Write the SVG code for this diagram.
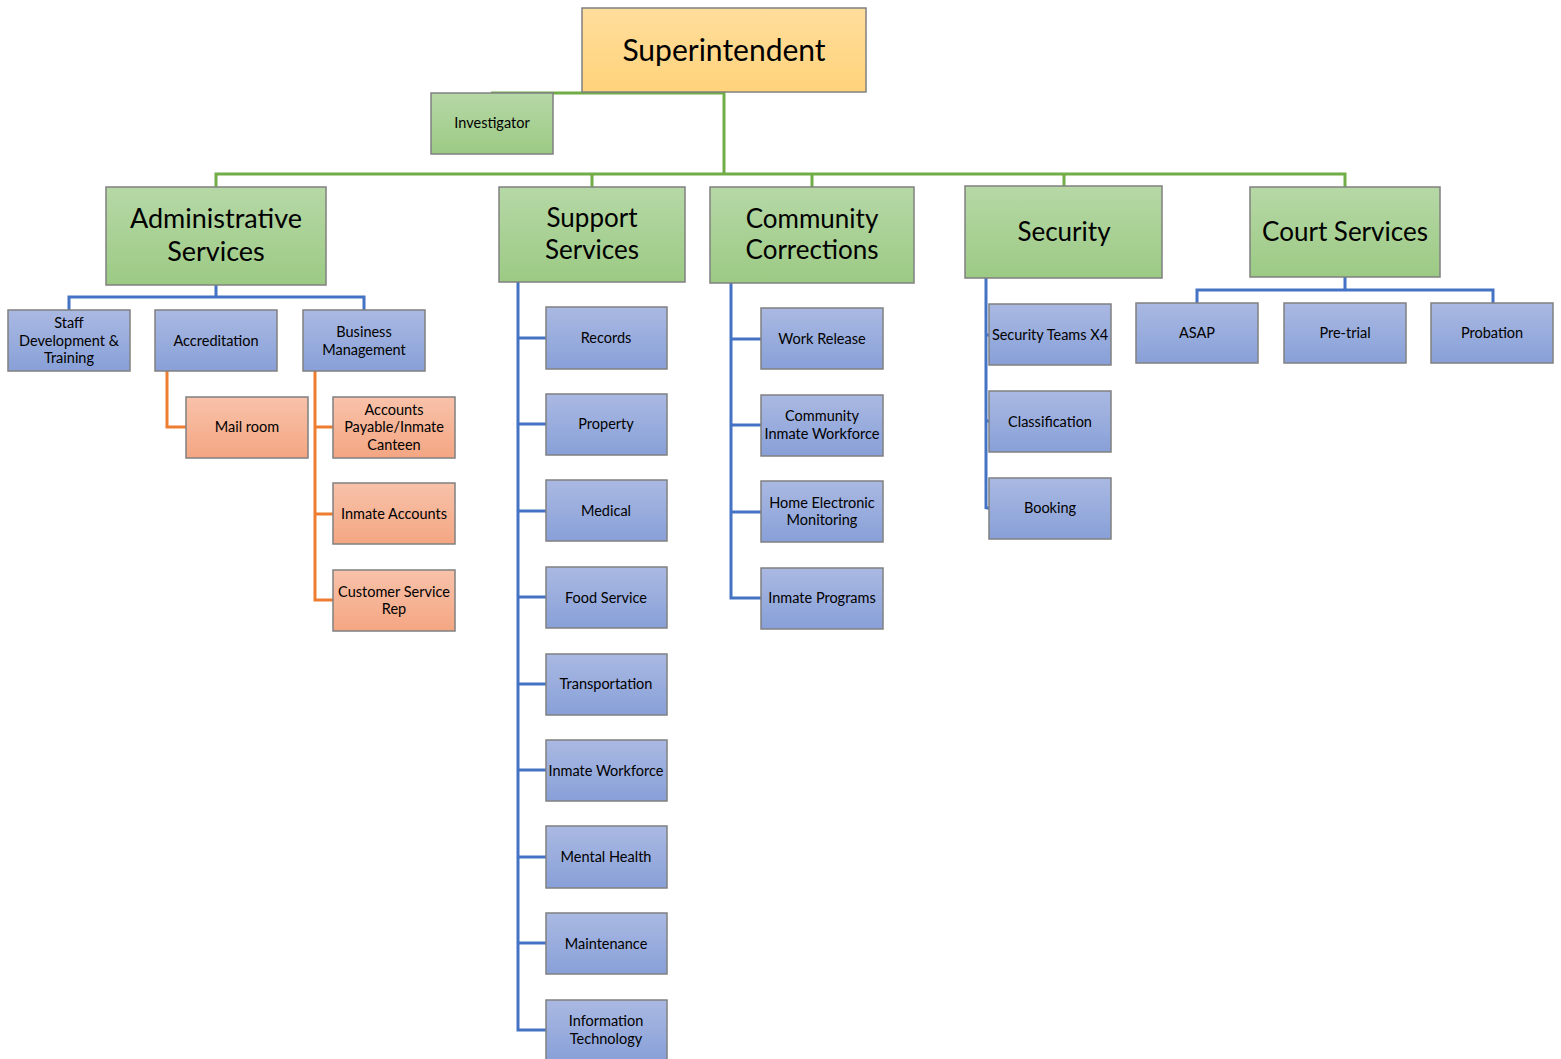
<svg xmlns="http://www.w3.org/2000/svg" width="1561" height="1059" viewBox="0 0 1561 1059">
<defs>
<linearGradient id="gy" x1="0" y1="0" x2="0" y2="1"><stop offset="0" stop-color="#FFDD9C"/><stop offset="1" stop-color="#FFD37A"/></linearGradient>
<linearGradient id="gg" x1="0" y1="0" x2="0" y2="1"><stop offset="0" stop-color="#B6D8A6"/><stop offset="1" stop-color="#9CCA84"/></linearGradient>
<linearGradient id="gb" x1="0" y1="0" x2="0" y2="1"><stop offset="0" stop-color="#AAB9E2"/><stop offset="1" stop-color="#88A0D8"/></linearGradient>
<linearGradient id="go" x1="0" y1="0" x2="0" y2="1"><stop offset="0" stop-color="#F8C2AA"/><stop offset="1" stop-color="#F4A682"/></linearGradient>
</defs>
<style>
.y,.g,.b,.o{stroke:#808080;stroke-width:1.5}
.y{fill:url(#gy)}.g{fill:url(#gg)}.b{fill:url(#gb)}.o{fill:url(#go)}
text{font-family:Lato,"Noto Sans",sans-serif;fill:#000;text-anchor:middle}
.s{font-size:14.5px}.l{font-size:26px}.a{font-size:27px}.t{font-size:30px}
.cg{stroke:#70AD47;stroke-width:3;fill:none}
.cb{stroke:#4472C4;stroke-width:3;fill:none}
.co{stroke:#ED7D31;stroke-width:3;fill:none}
</style>
<rect width="1561" height="1059" fill="#fff"/>
<g id="connectors">
<path class="cg" d="M491 93H724V174M216 187V174H1345V187M592 174V187M812 174V187M1064 174V186"/>
<path class="cb" d="M216 285V297M69 310V297H364V310"/>
<path class="co" d="M167 371V427H186M315 371V600H333M315 427H333M315 514H333"/>
<path class="cb" d="M518 282V1030H546M518 338H546M518 424H546M518 511H546M518 597H546M518 684H546M518 770H546M518 857H546M518 943H546"/>
<path class="cb" d="M731 283V598H761M731 339H761M731 425H761M731 512H761"/>
<path class="cb" d="M986 278V509M986 335H989M986 421H989M986 508H989"/>
<path class="cb" d="M1345 277V290M1197 303V290H1493V303"/>
</g>
<g id="superintendent"><rect class="y" x="582" y="8" width="284" height="84"/><text class="t" x="724" y="61">Superintendent</text></g>
<g id="investigator"><rect class="g" x="431" y="93" width="122" height="61"/><text class="s" x="492" y="128">Investigator</text></g>
<g id="admin"><rect class="g" x="106" y="187" width="220" height="98"/><text class="a" x="216" y="228">Administrative</text><text class="a" x="216" y="261">Services</text></g>
<g id="support"><rect class="g" x="499" y="187" width="186" height="95"/><text class="l" x="592" y="227">Support</text><text class="l" x="592" y="259">Services</text></g>
<g id="community"><rect class="g" x="710" y="187" width="204" height="96"/><text class="l" x="812" y="228">Community</text><text class="l" x="812" y="259">Corrections</text></g>
<g id="security"><rect class="g" x="965" y="186" width="197" height="92"/><text class="l" x="1064" y="241">Security</text></g>
<g id="court"><rect class="g" x="1250" y="187" width="190" height="90"/><text class="l" x="1345" y="241">Court Services</text></g>
<g id="staff"><rect class="b" x="8" y="310" width="122" height="61"/><text class="s" x="69" y="328">Staff</text><text class="s" x="69" y="346">Development &amp;</text><text class="s" x="69" y="363">Training</text></g>
<g id="accreditation"><rect class="b" x="155" y="310" width="122" height="61"/><text class="s" x="216" y="346">Accreditation</text></g>
<g id="business"><rect class="b" x="303" y="310" width="122" height="61"/><text class="s" x="364" y="337">Business</text><text class="s" x="364" y="355">Management</text></g>
<g id="mailroom"><rect class="o" x="186" y="397" width="122" height="61"/><text class="s" x="247" y="432">Mail room</text></g>
<g id="accounts"><rect class="o" x="333" y="397" width="122" height="61"/><text class="s" x="394" y="415">Accounts</text><text class="s" x="394" y="432">Payable/Inmate</text><text class="s" x="394" y="450">Canteen</text></g>
<g id="inmateaccounts"><rect class="o" x="333" y="483" width="122" height="61"/><text class="s" x="394" y="519">Inmate Accounts</text></g>
<g id="customer"><rect class="o" x="333" y="570" width="122" height="61"/><text class="s" x="394" y="597">Customer Service</text><text class="s" x="394" y="614">Rep</text></g>
<g id="records"><rect class="b" x="546" y="307" width="121" height="62"/><text class="s" x="606" y="343">Records</text></g>
<g id="property"><rect class="b" x="546" y="394" width="121" height="61"/><text class="s" x="606" y="429">Property</text></g>
<g id="medical"><rect class="b" x="546" y="480" width="121" height="61"/><text class="s" x="606" y="516">Medical</text></g>
<g id="food"><rect class="b" x="546" y="567" width="121" height="61"/><text class="s" x="606" y="603">Food Service</text></g>
<g id="transportation"><rect class="b" x="546" y="654" width="121" height="61"/><text class="s" x="606" y="689">Transportation</text></g>
<g id="inmateworkforce"><rect class="b" x="546" y="740" width="121" height="61"/><text class="s" x="606" y="776">Inmate Workforce</text></g>
<g id="mentalhealth"><rect class="b" x="546" y="826" width="121" height="62"/><text class="s" x="606" y="862">Mental Health</text></g>
<g id="maintenance"><rect class="b" x="546" y="913" width="121" height="61"/><text class="s" x="606" y="949">Maintenance</text></g>
<g id="it"><rect class="b" x="546" y="1000" width="121" height="61"/><text class="s" x="606" y="1026">Information</text><text class="s" x="606" y="1044">Technology</text></g>
<g id="workrelease"><rect class="b" x="761" y="308" width="122" height="61"/><text class="s" x="822" y="344">Work Release</text></g>
<g id="ciw"><rect class="b" x="761" y="395" width="122" height="61"/><text class="s" x="822" y="421">Community</text><text class="s" x="822" y="439">Inmate Workforce</text></g>
<g id="hem"><rect class="b" x="761" y="481" width="122" height="61"/><text class="s" x="822" y="508">Home Electronic</text><text class="s" x="822" y="525">Monitoring</text></g>
<g id="programs"><rect class="b" x="761" y="568" width="122" height="61"/><text class="s" x="822" y="603">Inmate Programs</text></g>
<g id="secteams"><rect class="b" x="989" y="304" width="122" height="61"/><text class="s" x="1050" y="340">Security Teams X4</text></g>
<g id="classification"><rect class="b" x="989" y="391" width="122" height="61"/><text class="s" x="1050" y="427">Classification</text></g>
<g id="booking"><rect class="b" x="989" y="478" width="122" height="61"/><text class="s" x="1050" y="513">Booking</text></g>
<g id="asap"><rect class="b" x="1136" y="303" width="122" height="60"/><text class="s" x="1197" y="338">ASAP</text></g>
<g id="pretrial"><rect class="b" x="1284" y="303" width="122" height="60"/><text class="s" x="1345" y="338">Pre-trial</text></g>
<g id="probation"><rect class="b" x="1431" y="303" width="122" height="60"/><text class="s" x="1492" y="338">Probation</text></g>
</svg>
